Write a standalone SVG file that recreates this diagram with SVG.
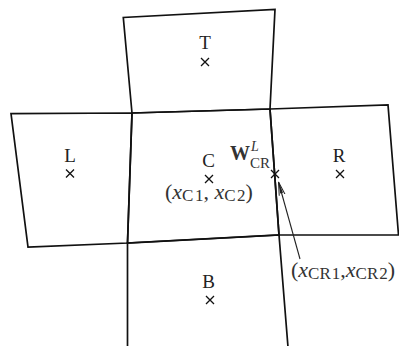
<svg xmlns="http://www.w3.org/2000/svg" width="399" height="346" viewBox="0 0 399 346">
<defs>
<style>
.cell{fill:none;stroke:#111;stroke-width:1.7;stroke-linejoin:miter}
.lbl{font-family:"Liberation Serif","Times New Roman",serif;font-size:19px;fill:#222;text-anchor:middle}
.cr{stroke:#111;stroke-width:1.3;fill:none}
.m{font-family:"Liberation Serif","Times New Roman",serif;font-size:22px;fill:#333}
.s{font-size:17px;font-style:normal}
.i{font-style:italic}
.conn{stroke:#222;stroke-width:1.1;fill:none}
</style>
<marker id="arr" viewBox="0 0 14 8" refX="13.5" refY="4" markerWidth="14" markerHeight="8" markerUnits="userSpaceOnUse" orient="auto">
<path d="M0,1 L13.5,4 L0,7" fill="none" stroke="#222" stroke-width="1"/>
<path d="M2,2.5 L13.5,4 L2,5.5" fill="#222" stroke="none"/>
</marker>
</defs>
<g id="T">
<polygon class="cell" points="132,113 123.3,17.5 275,9.3 270,109"/>
<text class="lbl" x="205" y="49">T</text>
<path class="cr" d="M201,58 L209,66 M209,58 L201,66"/>
</g>
<g id="L">
<polygon class="cell" points="11,113.7 132,113 127.5,243 28,247"/>
<text class="lbl" x="70" y="162">L</text>
<path class="cr" d="M66,169.5 L74,177.5 M74,169.5 L66,177.5"/>
</g>
<g id="C">
<polygon class="cell" points="132,113 270,109 279,235 127.5,243"/>
<text class="lbl" x="208.5" y="167">C</text>
<path class="cr" d="M205,175 L213,183 M213,175 L205,183"/>
<text class="m" x="165" y="199">(<tspan class="i">x</tspan><tspan class="s" dy="2">C</tspan><tspan class="s" dx="1.5">1</tspan><tspan dy="-2">, </tspan><tspan class="i">x</tspan><tspan class="s" dy="2">C</tspan><tspan class="s" dx="1.5">2</tspan><tspan dy="-2">)</tspan></text>
</g>
<g id="R">
<polygon class="cell" points="270,109 388,105 398.5,235 279,235"/>
<text class="lbl" x="339" y="162">R</text>
<path class="cr" d="M336,170 L344,178 M344,170 L336,178"/>
</g>
<g id="B">
<polyline class="cell" points="127.5,347 127.5,243 279,235 288,347"/>
<text class="lbl" x="208.5" y="288">B</text>
<path class="cr" d="M206,296 L214,304 M214,296 L206,304"/>
</g>
<g id="W">
<path class="cr" d="M271,170 L279,178 M279,170 L271,178"/>
<text class="m" style="font-size:20px"><tspan x="230" y="160" font-weight="bold">W</tspan><tspan class="i" x="251" y="151" style="font-size:14px">L</tspan><tspan x="250" y="168" style="font-size:15px">CR</tspan></text>
</g>
<g id="CRlabel">
<text class="m" x="291" y="277">(<tspan class="i">x</tspan><tspan class="s" dy="2">CR</tspan><tspan class="s" dx="1">1</tspan><tspan dy="-2">,</tspan><tspan class="i">x</tspan><tspan class="s" dy="2">CR</tspan><tspan class="s" dx="1">2</tspan><tspan dy="-2">)</tspan></text>
</g>
<g id="connectors">
<line class="conn" x1="300" y1="259" x2="278.5" y2="182" marker-end="url(#arr)"/>
</g>
</svg>
